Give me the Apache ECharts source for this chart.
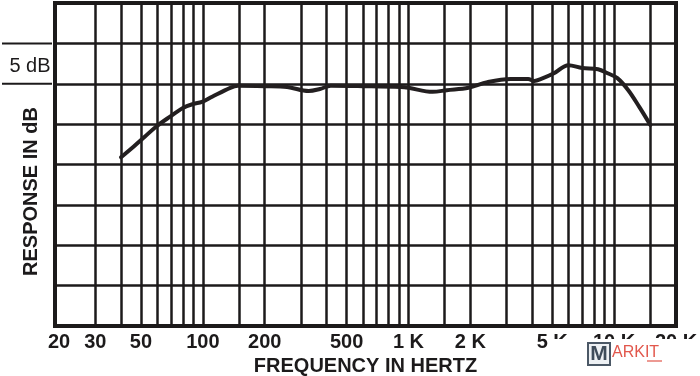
<!DOCTYPE html>
<html>
<head>
<meta charset="utf-8">
<script src="https://cdn.jsdelivr.net/npm/echarts@6/dist/echarts.min.js"></script>
<style>
html,body{margin:0;padding:0;background:#fff;}
#chart{width:700px;height:376px;}
</style>
</head>
<body>
<div id="chart"></div>
<script>
// Frequency response (Hz) and response (dB on a 0-40 scale, 5 dB per division)
var freqs = [40, 46, 52, 59, 69, 80, 90, 99, 111, 136, 148, 200, 257, 327, 371, 419, 600, 917, 1000, 1311, 1536, 1960, 2420, 3140, 3820, 4090, 4420, 5100, 6000, 7000, 8350, 9300, 10370, 11720, 13280, 15000];
var response = [20.9, 22.2, 23.4, 24.65, 25.9, 27.0, 27.5, 27.75, 28.4, 29.5, 29.75, 29.7, 29.6, 29.1, 29.35, 29.75, 29.7, 29.6, 29.5, 29.0, 29.2, 29.5, 30.2, 30.6, 30.6, 30.35, 30.6, 31.3, 32.3, 31.95, 31.8, 31.3, 30.7, 29.2, 27.1, 24.9];

// Vertical grid line frequencies
var gridFreqs = [30, 40, 50, 60, 70, 80, 90, 100, 150, 200, 300, 400, 500, 600, 700, 800, 900, 1000, 1500, 2000, 3000, 4000, 5000, 6000, 7000, 8000, 9000, 10000, 15000];

// Tick labels
var tickValues = [20, 30, 50, 100, 200, 500, 1000, 2000, 5000, 10000, 20000];
var tickLabels = ['20', '30', '50', '100', '200', '500', '1 K', '2 K', '5 K', '10 K', '20 K'];

var scaleBarLabel = '5 dB';
var scaleBarValues = [35, 30];

var chart = echarts.init(document.getElementById('chart'), null, {renderer: 'canvas'});
var INK = '#1c1a1b';
var FONT = '"Liberation Sans", Arial, Helvetica, sans-serif';

var option = {
  animation: false,
  backgroundColor: '#ffffff',
  grid: {
    left: 55, top: 3, right: 24, bottom: 50,
    outerBoundsMode: 'none', containLabel: false,
    show: true, borderColor: INK, borderWidth: 4, backgroundColor: 'transparent'
  },
  xAxis: {
    type: 'log', logBase: 10, min: 19.1, max: 20000,
    name: 'FREQUENCY IN HERTZ', nameLocation: 'middle', nameGap: 27,
    nameTextStyle: {fontFamily: FONT, fontWeight: 'bold', fontSize: 20, color: INK},
    axisLine: {show: false}, axisTick: {show: false}, splitLine: {show: false},
    axisLabel: {
      customValues: tickValues,
      margin: 6, hideOverlap: false,
      fontFamily: FONT, fontWeight: 'bold', fontSize: 20, color: INK,
      formatter: function (v) {
        for (var i = 0; i < tickValues.length; i++) {
          if (Math.abs(tickValues[i] - v) / tickValues[i] < 1e-6) return tickLabels[i];
        }
        return '';
      }
    }
  },
  yAxis: {
    type: 'value', min: 0, max: 40, interval: 5,
    name: 'RESPONSE IN dB', nameLocation: 'middle', nameGap: 14,
    nameTextStyle: {fontFamily: FONT, fontWeight: 'bold', fontSize: 20, color: INK, padding: [0, 54, 0, 0]},
    axisLine: {show: false}, axisTick: {show: false}, axisLabel: {show: false},
    splitLine: {show: true, lineStyle: {color: INK, width: 2.5}}
  },
  series: [
    {
      name: 'grid', type: 'line', data: [], z: 1, silent: true,
      markLine: {
        silent: true, z: 1, symbol: ['none', 'none'], animation: false,
        label: {show: false},
        lineStyle: {color: INK, width: 2.5, type: 'solid'},
        emphasis: {disabled: true},
        data: gridFreqs.map(function (f) { return {xAxis: f}; })
      }
    },
    {
      name: 'Response', type: 'line', z: 5,
      data: freqs.map(function (f, i) { return [f, response[i]]; }),
      smooth: 0.35, showSymbol: false, symbol: 'none',
      lineStyle: {color: '#231f20', width: 4, cap: 'round', join: 'round'}
    }
  ]
};
chart.setOption(option);

// Scale bar (5 dB) at the left of the plot, placed via the y axis scale
var yTop = chart.convertToPixel({yAxisIndex: 0}, scaleBarValues[0]);
var yBot = chart.convertToPixel({yAxisIndex: 0}, scaleBarValues[1]);
chart.setOption({
  graphic: [
    {type: 'line', shape: {x1: 2, y1: yTop, x2: 52, y2: yTop}, style: {stroke: INK, lineWidth: 2}, silent: true},
    {type: 'line', shape: {x1: 2, y1: yBot, x2: 52, y2: yBot}, style: {stroke: INK, lineWidth: 2}, silent: true},
    {type: 'text', x: 30, y: (yTop + yBot) / 2 + 3, silent: true,
     style: {text: scaleBarLabel, fontFamily: FONT, fontSize: 20, fontWeight: 'normal', fill: INK, align: 'center', verticalAlign: 'middle'}},
    // watermark
    {type: 'rect', shape: {x: 550, y: 339, width: 150, height: 37}, style: {fill: '#ffffff'}, silent: true, z: 100},
    {type: 'rect', shape: {x: 588, y: 343, width: 22, height: 22}, style: {fill: '#eef1f4', stroke: '#4b5866', lineWidth: 2}, silent: true, z: 101},
    {type: 'text', x: 599, y: 354.5, z: 102, silent: true,
     style: {text: 'M', fontFamily: FONT, fontSize: 21, fontWeight: 'bold', fill: '#3f4c5a', align: 'center', verticalAlign: 'middle'}},
    {type: 'text', x: 612, y: 353, z: 102, silent: true,
     style: {text: 'ARKIT', fontFamily: FONT, fontSize: 16, fill: '#e2574c', align: 'left', verticalAlign: 'middle'}},
    {type: 'line', shape: {x1: 647, y1: 361, x2: 662, y2: 361}, style: {stroke: '#e2574c', lineWidth: 1.2}, silent: true, z: 102}
  ]
});
</script>
</body>
</html>
